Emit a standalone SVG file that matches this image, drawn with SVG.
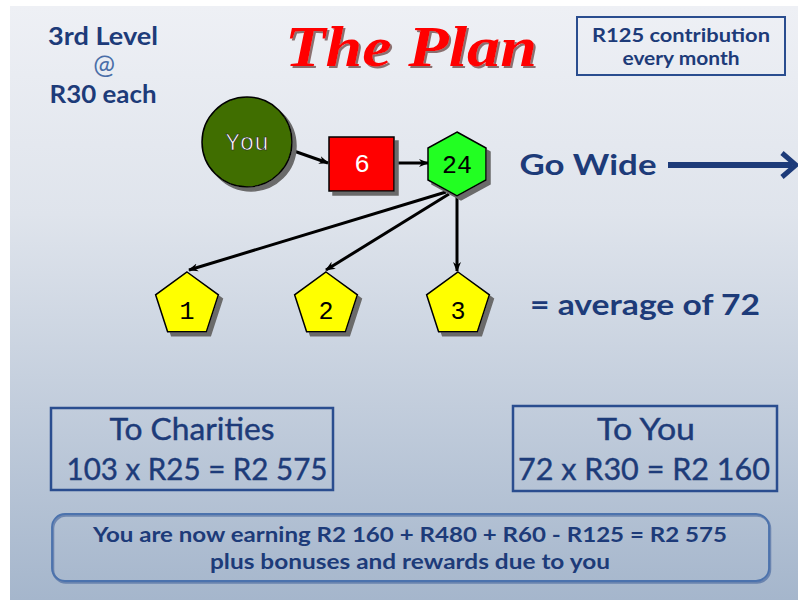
<svg xmlns="http://www.w3.org/2000/svg" width="798" height="600" viewBox="0 0 798 600">
<defs>
<linearGradient id="bg" x1="0" y1="0" x2="0" y2="1">
<stop offset="0" stop-color="#eef0f5"/>
<stop offset="0.35" stop-color="#dfe4ec"/>
<stop offset="1" stop-color="#a5b6cc"/>
</linearGradient>
<marker id="ah" viewBox="0 0 10 10" refX="9" refY="5" markerWidth="10" markerHeight="10" orient="auto" markerUnits="userSpaceOnUse">
<path d="M0,1 L10,5 L0,9 L3,5 Z" fill="#000"/>
</marker>
<filter id="sh" x="-20%" y="-20%" width="150%" height="150%">
<feOffset in="SourceAlpha" dx="4" dy="4" result="o"/>
<feFlood flood-color="#6b6b6b"/>
<feComposite in2="o" operator="in" result="s"/>
<feMerge><feMergeNode in="s"/><feMergeNode in="SourceGraphic"/></feMerge>
</filter>
<filter id="tsh" x="-10%" y="-20%" width="120%" height="150%">
<feOffset in="SourceAlpha" dx="2" dy="2" result="o"/>
<feFlood flood-color="#8a7070"/>
<feComposite in2="o" operator="in" result="s"/>
<feMerge><feMergeNode in="s"/><feMergeNode in="SourceGraphic"/></feMerge>
</filter>
</defs>
<style>
.nv{fill:#1d3b79;font-family:"Lato","Liberation Sans",sans-serif;font-weight:bold;text-anchor:middle}
.nr{fill:#1d3b79;font-family:"Lato","Liberation Sans",sans-serif;text-anchor:middle;stroke:#1d3b79;stroke-width:0.4}
.box{fill:none;stroke:#2a4d8f;stroke-width:2.5}
.mono{font-family:"Liberation Mono","DejaVu Sans Mono",monospace;text-anchor:middle}
.edge{stroke:#000;stroke-width:3;fill:none;marker-end:url(#ah)}
.node{stroke:#000;stroke-width:1.5;filter:url(#sh)}
</style>
<rect x="0" y="0" width="798" height="600" fill="#ffffff"/>
<rect x="10" y="6" width="788" height="594" fill="url(#bg)"/>

<g id="title">
<text x="411" y="66" font-family="'Liberation Serif',serif" font-weight="bold" font-style="italic" font-size="56" fill="#ff0000" text-anchor="middle" textLength="252" lengthAdjust="spacingAndGlyphs" filter="url(#tsh)">The Plan</text>
</g>

<g id="level-label">
<text class="nv" x="103" y="45" font-size="24" textLength="110" lengthAdjust="spacingAndGlyphs">3rd Level</text>
<text x="104" y="74" font-size="26" fill="#4a6ea8" font-family="Lato,'Liberation Sans',sans-serif" text-anchor="middle">@</text>
<text class="nv" x="103" y="103" font-size="24" textLength="107" lengthAdjust="spacingAndGlyphs">R30 each</text>
</g>

<g id="contribution">
<rect class="box" x="577" y="17" width="208" height="58" style="stroke-width:2"/>
<text class="nv" x="681" y="42" font-size="19" textLength="178" lengthAdjust="spacingAndGlyphs">R125 contribution</text>
<text class="nv" x="681" y="65" font-size="19" textLength="117" lengthAdjust="spacingAndGlyphs">every month</text>
</g>

<g id="connectors">
<line class="edge" x1="291" y1="150" x2="328" y2="163"/>
<line class="edge" x1="394" y1="163" x2="428" y2="163"/>
<line class="edge" x1="446" y1="192" x2="189" y2="270"/>
<line class="edge" x1="449" y1="194" x2="326" y2="270"/>
<line class="edge" x1="457" y1="196" x2="457" y2="271"/>
</g>

<g id="node-you">
<circle class="node" cx="247" cy="142" r="45" fill="#3f6e06"/>
<text class="mono" x="247" y="150" font-size="24" fill="#ffffff" stroke="#222" stroke-width="0.6">You</text>
</g>

<g id="node-6">
<rect class="node" x="329" y="137" width="65" height="54" fill="#ff0000"/>
<text class="mono" x="362" y="172" font-size="26" fill="#ffffff">6</text>
</g>

<g id="node-24">
<polygon class="node" points="457,132 486,148 486,180 457,196 428,180 428,148" fill="#22ff22"/>
<text class="mono" x="457" y="173" font-size="25" fill="#000">24</text>
</g>

<g id="node-1">
<polygon class="node" points="187,272 218.4,294.8 206.4,331.7 167.6,331.7 155.6,294.8" fill="#ffff00"/>
<text class="mono" x="187" y="319" font-size="25" fill="#000">1</text>
</g>
<g id="node-2">
<polygon class="node" points="326,272 357.4,294.8 345.4,331.7 306.6,331.7 294.6,294.8" fill="#ffff00"/>
<text class="mono" x="326" y="319" font-size="25" fill="#000">2</text>
</g>
<g id="node-3">
<polygon class="node" points="458,272 489.4,294.8 477.4,331.7 438.6,331.7 426.6,294.8" fill="#ffff00"/>
<text class="mono" x="458" y="319" font-size="25" fill="#000">3</text>
</g>

<g id="go-wide">
<text class="nv" x="588" y="175" font-size="28" textLength="137" lengthAdjust="spacingAndGlyphs">Go Wide</text>
<line x1="668" y1="165" x2="792" y2="165" stroke="#1d3b79" stroke-width="6"/>
<polyline points="782,153 796,165 782,177" fill="none" stroke="#1d3b79" stroke-width="5"/>
</g>

<g id="average">
<text class="nv" x="645" y="315" font-size="28" textLength="230" lengthAdjust="spacingAndGlyphs">= average of 72</text>
</g>

<g id="charities">
<rect class="box" x="51" y="408" width="282" height="82"/>
<text class="nr" x="192" y="440" font-size="30" textLength="165" lengthAdjust="spacingAndGlyphs">To Charities</text>
<text class="nr" x="197" y="480" font-size="30" textLength="261" lengthAdjust="spacingAndGlyphs">103 x R25 = R2 575</text>
</g>

<g id="to-you">
<rect class="box" x="513" y="406" width="264" height="85"/>
<text class="nr" x="646" y="440" font-size="30" textLength="98" lengthAdjust="spacingAndGlyphs">To You</text>
<text class="nr" x="644" y="480" font-size="30" textLength="252" lengthAdjust="spacingAndGlyphs">72 x R30 = R2 160</text>
</g>

<g id="summary">
<rect x="52" y="514" width="717" height="67" rx="13" fill="none" stroke="#2a4d8f" stroke-width="2.5" opacity="0.5" transform="translate(1,1.5)"/>
<rect x="52" y="514" width="717" height="67" rx="13" fill="none" stroke="#4b72ad" stroke-width="1.8"/>
<text class="nv" x="410" y="542" font-size="21" textLength="634" lengthAdjust="spacingAndGlyphs">You are now earning R2 160 + R480 + R60 - R125 = R2 575</text>
<text class="nv" x="410" y="569" font-size="21" textLength="400" lengthAdjust="spacingAndGlyphs">plus bonuses and rewards due to you</text>
</g>
</svg>
